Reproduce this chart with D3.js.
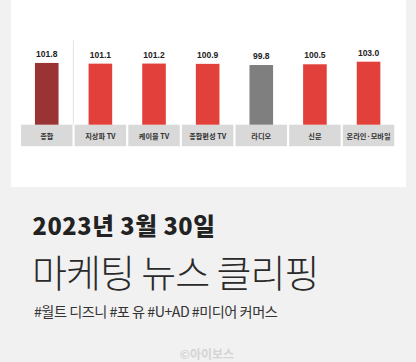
<!DOCTYPE html>
<html><head><meta charset="utf-8">
<script src="https://cdn.jsdelivr.net/npm/d3@7"></script>
<style>
html,body{margin:0;padding:0;background:#f1f1f1;}
svg{display:block;}
</style></head>
<body>
<svg id="c" width="416" height="362"></svg>
<script>
const categories = ["종합","지상파 TV","케이블 TV","종합편성 TV","라디오","신문","온라인·모바일"];
const values = [101.8,101.1,101.2,100.9,99.8,100.5,103.0];
const colors = ["#9a3434","#e2403a","#e2403a","#e2403a","#7f7f7f","#e2403a","#e2403a"];
const title1 = "2023년 3월 30일";
const title2 = "마케팅 뉴스 클리핑";
const tags = "#월트 디즈니 #포 유 #U+AD #미디어 커머스";
const watermark = "©아이보스";

const svg = d3.select("#c");
const font = "'Noto Sans CJK KR','Noto Sans',sans-serif";

svg.append("rect").attr("width",416).attr("height",362).attr("fill","#f1f1f1");
// card
svg.append("rect").attr("x",11).attr("y",0).attr("width",395).attr("height",187).attr("fill","#ffffff");

const x = d3.scaleBand().domain(categories).range([21,394.3]).paddingInner(0.04).paddingOuter(0);
const baseY = 124.7;
const y = d3.scaleLinear().domain([42,103]).range([baseY,61.7]);

// label boxes
svg.selectAll("rect.lb").data(categories).join("rect").attr("class","lb")
  .attr("x",d=>x(d)).attr("y",baseY).attr("width",x.bandwidth()).attr("height",21.5)
  .attr("fill","#d9d9d9");

// separator line
svg.append("line").attr("x1",73.4).attr("x2",73.4).attr("y1",40.5).attr("y2",baseY)
  .attr("stroke","#dcdcdc").attr("stroke-width",0.8);

const bw = 23.6;
svg.selectAll("rect.bar").data(values).join("rect").attr("class","bar")
  .attr("x",(d,i)=>x(categories[i])+x.bandwidth()/2-bw/2)
  .attr("y",d=>y(d)).attr("width",bw).attr("height",d=>baseY-y(d))
  .attr("fill",(d,i)=>colors[i]);

svg.selectAll("text.val").data(values).join("text").attr("class","val")
  .attr("x",(d,i)=>x(categories[i])+x.bandwidth()/2)
  .attr("y",d=>y(d)-6)
  .attr("text-anchor","middle").attr("font-family","'Liberation Sans',Arial,sans-serif")
  .attr("font-weight","bold").attr("font-size",8.5).attr("fill","#222")
  .text(d=>d.toFixed(1));

svg.selectAll("text.cat").data(categories).join("text").attr("class","cat")
  .attr("x",d=>x(d)+x.bandwidth()/2).attr("y",baseY+13.8)
  .attr("text-anchor","middle").attr("font-family",font).attr("font-weight","bold")
  .attr("font-size",7.2).attr("fill","#333").text(d=>d);

svg.append("text").attr("x",32.5).attr("y",235).attr("font-family",font).attr("font-weight",900)
  .attr("font-size",23.5).attr("fill","#222").attr("letter-spacing",0.6).text(title1);
svg.append("text").attr("x",32).attr("y",287).attr("font-family",font).attr("font-weight",300)
  .attr("font-size",38).attr("fill","#2a2a2a").attr("letter-spacing",-1.0).text(title2);
svg.append("text").attr("x",34).attr("y",316.5).attr("font-family",font).attr("font-weight",400)
  .attr("font-size",14.2).attr("fill","#333").attr("letter-spacing",-0.5).text(tags);
svg.append("text").attr("x",207).attr("y",359).attr("text-anchor","middle").attr("font-family",font)
  .attr("font-weight","bold").attr("font-size",12).attr("fill","#d4d4d4").text(watermark);
</script>
</body></html>
